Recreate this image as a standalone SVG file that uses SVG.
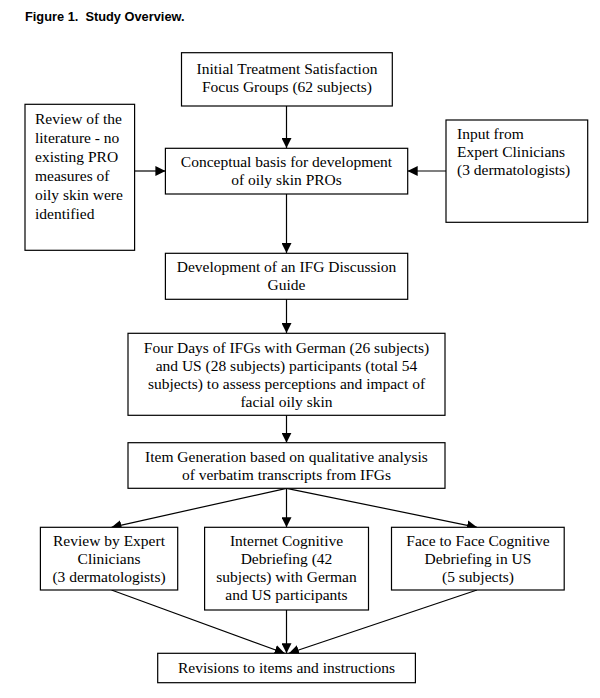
<svg xmlns="http://www.w3.org/2000/svg" width="600" height="698" viewBox="0 0 600 698">
<defs>
<marker id="ah" viewBox="0 0 10 10" refX="10" refY="5" markerWidth="10" markerHeight="10" markerUnits="userSpaceOnUse" orient="auto">
<path d="M0,0 L10,5 L0,10 z" fill="#000"/>
</marker>
</defs>
<style>
rect{fill:#fff;stroke:#000;stroke-width:1.2}
text{font-family:"Liberation Serif","Times New Roman",serif;font-size:15.5px;fill:#000}
.c{text-anchor:middle}
.t{font-family:"Liberation Sans",Arial,sans-serif;font-size:12.8px;font-weight:bold}
#connectors line{stroke:#000;stroke-width:1.2;marker-end:url(#ah)}
</style>
<rect x="0" y="0" width="600" height="698" style="fill:#fff;stroke:none"/>
<text class="t" x="25" y="21" xml:space="preserve">Figure 1.  Study Overview.</text>
<g id="connectors">
<line x1="286.5" y1="106" x2="286.5" y2="148"/>
<line x1="134.6" y1="171" x2="165.4" y2="171"/>
<line x1="446" y1="171" x2="407.7" y2="171"/>
<line x1="286.5" y1="194" x2="286.5" y2="253"/>
<line x1="286.5" y1="299" x2="286.5" y2="333"/>
<line x1="286.5" y1="415" x2="286.5" y2="442.7"/>
<line x1="286.5" y1="488.3" x2="111.5" y2="527.3"/>
<line x1="286.5" y1="488.3" x2="286.5" y2="527.3"/>
<line x1="286.5" y1="488.3" x2="477" y2="527.3"/>
<line x1="111.5" y1="590" x2="284.6" y2="653.3"/>
<line x1="286.5" y1="610" x2="286.5" y2="653.3"/>
<line x1="477" y1="590" x2="289" y2="653.3"/>
</g>
<g id="n1"><rect x="181.5" y="52.7" width="210.8" height="53.3"/>
<text class="c" x="287" y="74">Initial Treatment Satisfaction</text>
<text class="c" x="287" y="92">Focus Groups (62 subjects)</text></g>
<g id="n2"><rect x="25" y="104.3" width="109.6" height="146"/>
<text x="35" y="124">Review of the</text>
<text x="35" y="143">literature - no</text>
<text x="35" y="162">existing PRO</text>
<text x="35" y="181">measures of</text>
<text x="35" y="200">oily skin were</text>
<text x="35" y="219">identified</text></g>
<g id="n3"><rect x="165.4" y="148.3" width="242.3" height="45.7"/>
<text class="c" x="286.5" y="167">Conceptual basis for development</text>
<text class="c" x="286.5" y="185">of oily skin PROs</text></g>
<g id="n4"><rect x="446" y="120" width="141.7" height="102.3"/>
<text x="457" y="139">Input from</text>
<text x="457" y="157">Expert Clinicians</text>
<text x="457" y="175">(3 dermatologists)</text></g>
<g id="n5"><rect x="165.4" y="253.3" width="242.3" height="46"/>
<text class="c" x="286.5" y="272">Development of an IFG Discussion</text>
<text class="c" x="286.5" y="290">Guide</text></g>
<g id="n6"><rect x="128" y="333.3" width="317" height="82"/>
<text class="c" x="286.5" y="352.5">Four Days of IFGs with German (26 subjects)</text>
<text class="c" x="286.5" y="370.5">and US (28 subjects) participants (total 54</text>
<text class="c" x="286.5" y="388.5">subjects) to assess perceptions and impact of</text>
<text class="c" x="286.5" y="406.5">facial oily skin</text></g>
<g id="n7"><rect x="128" y="442.7" width="317" height="45.6"/>
<text class="c" x="286.5" y="461.5">Item Generation based on qualitative analysis</text>
<text class="c" x="286.5" y="479.5">of verbatim transcripts from IFGs</text></g>
<g id="n8"><rect x="40.4" y="527.3" width="137.3" height="62.7"/>
<text class="c" x="109" y="546">Review by Expert</text>
<text class="c" x="109" y="564">Clinicians</text>
<text class="c" x="109" y="582">(3 dermatologists)</text></g>
<g id="n9"><rect x="204.6" y="527.3" width="163.9" height="82.7"/>
<text class="c" x="286.5" y="546">Internet Cognitive</text>
<text class="c" x="286.5" y="564">Debriefing (42</text>
<text class="c" x="286.5" y="582">subjects) with German</text>
<text class="c" x="286.5" y="600">and US participants</text></g>
<g id="n10"><rect x="391.5" y="527.3" width="172.7" height="62.7"/>
<text class="c" x="478" y="546">Face to Face Cognitive</text>
<text class="c" x="478" y="564">Debriefing in US</text>
<text class="c" x="478" y="582">(5 subjects)</text></g>
<g id="n11"><rect x="157.7" y="653.3" width="257.7" height="29.4"/>
<text class="c" x="286.5" y="673">Revisions to items and instructions</text></g>
</svg>
